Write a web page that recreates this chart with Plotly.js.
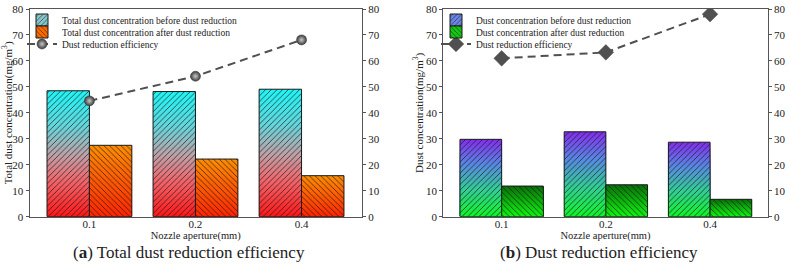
<!DOCTYPE html>
<html>
<head>
<meta charset="utf-8">
<script src="https://cdn.plot.ly/plotly-3.0.1.min.js"></script>
<style>
  html, body { margin: 0; padding: 0; background: #fff; }
  #chart { width: 790px; height: 265px; }
</style>
</head>
<body>
<div id="chart"></div>
<script>
// Nozzle apertures (mm)
const categories = ['0.1', '0.2', '0.4'];

// (a) total dust, mg/m3, and efficiency, %
const totalBefore = [48.5, 48.2, 49.1];
const totalAfter = [27.5, 22.2, 15.8];
const totalEfficiency = [44.6, 54.1, 68.1];

// (b) dust, mg/m3, and efficiency, %
const dustBefore = [29.8, 32.7, 28.7];
const dustAfter = [11.8, 12.3, 6.7];
const dustEfficiency = [61.0, 63.3, 78.0];

const yTicks = [0, 10, 20, 30, 40, 50, 60, 70, 80];

const FONT = 'Liberation Serif';
const INK = '#222';
const AXIS = '#555';
const STEPS = 36;

// colour stops, bottom (0) to top (1) of each bar
const gradTotalBefore = [[0, [255, 22, 22]], [0.28, [242, 100, 106]], [0.5, [188, 164, 170]],
                         [0.72, [100, 214, 220]], [1, [30, 246, 246]]];
const gradTotalAfter = [[0, [255, 36, 0]], [1, [255, 142, 0]]];
const gradDustBefore = [[0, [16, 246, 40]], [0.35, [50, 206, 150]], [0.68, [88, 136, 228]], [1, [132, 44, 240]]];
const gradDustAfter = [[0, [16, 248, 16]], [1, [8, 112, 8]]];

function colorAt(stops, t) {
  for (let i = 1; i < stops.length; i++) {
    if (t <= stops[i][0]) {
      const a = stops[i - 1], b = stops[i];
      const u = (t - a[0]) / (b[0] - a[0]);
      const c = a[1].map((v, j) => Math.round(v + (b[1][j] - v) * u));
      return 'rgb(' + c.join(',') + ')';
    }
  }
  return 'rgb(' + stops[stops.length - 1][1].join(',') + ')';
}

// A gradient bar series: nested bars from full height down, each shorter one
// painted on top, then a hatched outline bar at the full value.
function gradientBars(values, stops, xa, ya, offset, shape) {
  const traces = [];
  for (let k = 0; k < STEPS; k++) {
    const f = (STEPS - k) / STEPS;
    traces.push({
      type: 'bar', x: categories, y: values.map(v => v * f),
      xaxis: xa, yaxis: ya, width: 0.4, offset: offset,
      marker: { color: colorAt(stops, f - 0.5 / STEPS), line: { width: 0 } },
      showlegend: false, hoverinfo: 'skip'
    });
  }
  traces.push({
    type: 'bar', x: categories, y: values,
    xaxis: xa, yaxis: ya, width: 0.4, offset: offset,
    marker: {
      color: 'rgba(0,0,0,0)',
      line: { color: '#1a1a1a', width: 1 },
      pattern: { shape: shape, fgcolor: '#1a1a1a', bgcolor: 'rgba(0,0,0,0)', size: 4, solidity: 0.18 }
    },
    showlegend: false
  });
  return traces;
}

// legend entry for a bar series
function barKey(name, color, shape, xa, ya, legend) {
  return {
    type: 'bar', x: categories, y: categories.map(() => null),
    xaxis: xa, yaxis: ya, width: 0.4, name: name, legend: legend,
    marker: {
      color: color, line: { color: '#1a1a1a', width: 1 },
      pattern: { shape: shape, fgcolor: '#1a1a1a', bgcolor: color, size: 4, solidity: 0.18 }
    }
  };
}

// efficiency lines (right-hand axes)
const lineTraces = [
  {
    type: 'scatter', mode: 'lines+markers', x: categories, y: totalEfficiency,
    xaxis: 'x', yaxis: 'y2', name: 'Dust reduction efficiency', legend: 'legend3',
    line: { color: '#505050', width: 2, dash: '8px,5px' },
    marker: { symbol: 'circle', size: 10, color: '#3c3c3c',
              gradient: { type: 'radial', color: '#c8c8c8' },
              line: { color: '#333', width: 0.5 } }
  },
  {
    type: 'scatter', mode: 'lines+markers', x: categories, y: dustEfficiency,
    xaxis: 'x2', yaxis: 'y4', name: 'Dust reduction efficiency', legend: 'legend4',
    line: { color: '#505050', width: 2, dash: '8px,5px' },
    marker: { symbol: 'diamond', size: 12, color: '#505050', line: { color: '#505050', width: 0.5 } }
  }
];

const data = [].concat(
  lineTraces,
  gradientBars(totalBefore, gradTotalBefore, 'x', 'y', -0.4, '/'),
  gradientBars(totalAfter, gradTotalAfter, 'x', 'y', 0, '\\'),
  gradientBars(dustBefore, gradDustBefore, 'x2', 'y3', -0.4, '/'),
  gradientBars(dustAfter, gradDustAfter, 'x2', 'y3', 0, '\\'),
  [
    barKey('Total dust concentration before dust reduction', '#86c8cc', '/', 'x', 'y', 'legend'),
    barKey('Total dust concentration after dust reduction', '#ff6a00', '\\', 'x', 'y', 'legend2'),
    barKey('Dust concentration before dust reduction', '#6a86e6', '/', 'x2', 'y3', 'legend5'),
    barKey('Dust concentration after dust reduction', '#14c814', '\\', 'x2', 'y3', 'legend6')
  ]
);

const W = 790, H = 265;
const yDomain = [1 - 216.7 / H, 1 - 9 / H];

function xAxis(domain, range, anchor) {
  return {
    domain: domain, range: range, anchor: anchor, type: 'category',
    categoryorder: 'array', categoryarray: categories,
    showline: true, linecolor: AXIS, linewidth: 1, mirror: true,
    ticks: '', ticklabelstandoff: -3, showgrid: false, zeroline: false, automargin: false,
    tickfont: { family: FONT, size: 11, color: INK },
    title: { text: 'Nozzle aperture(mm)', font: { family: FONT, size: 10.5, color: INK }, standoff: 0 }
  };
}
function yAxis(anchor, titleText) {
  return {
    domain: yDomain, range: [0, 80], anchor: anchor,
    tickvals: yTicks, ticktext: yTicks.map(String),
    showline: true, linecolor: AXIS, linewidth: 1,
    ticks: 'outside', ticklen: 3, tickcolor: AXIS,
    showgrid: false, zeroline: false, automargin: false,
    tickfont: { family: FONT, size: 11, color: INK },
    title: { text: titleText, font: { family: FONT, size: 11, color: INK }, standoff: 0 }
  };
}
function rightAxis(anchor, over) {
  return {
    domain: yDomain, range: [0, 80], anchor: anchor, overlaying: over, side: 'right',
    tickvals: yTicks, ticktext: yTicks.map(String),
    showline: true, linecolor: AXIS, linewidth: 1,
    ticks: 'outside', ticklen: 3, tickcolor: AXIS,
    showgrid: false, zeroline: false, automargin: false,
    tickfont: { family: FONT, size: 11, color: INK }
  };
}

function legendAt(xPx, yPx) {
  return {
    x: xPx / W, y: 1 - yPx / H, xanchor: 'left', yanchor: 'middle',
    bgcolor: 'rgba(0,0,0,0)', borderwidth: 0, itemwidth: 30,
    font: { family: FONT, size: 9.5, color: INK }, itemclick: false
  };
}

const layout = {
  width: W, height: H,
  margin: { l: 0, r: 0, t: 0, b: 0 },
  paper_bgcolor: '#fff', plot_bgcolor: 'rgba(0,0,0,0)',
  barmode: 'overlay', showlegend: true,
  font: { family: FONT, color: INK },
  xaxis: xAxis([29.5 / W, 362 / W], [-0.565, 2.57], 'y'),
  yaxis: yAxis('x', 'Total dust concentration(mg/m<sup>3</sup>)'),
  yaxis2: rightAxis('x', 'y'),
  xaxis2: xAxis([443.3 / W, 767.7 / W], [-0.56, 2.553], 'y3'),
  yaxis3: yAxis('x2', 'Dust concentration(mg/m<sup>3</sup>)'),
  yaxis4: rightAxis('x2', 'y3'),
  legend: legendAt(22, 20),
  legend2: legendAt(22, 32),
  legend3: legendAt(22, 44),
  legend5: legendAt(436, 20),
  legend6: legendAt(436, 32),
  legend4: legendAt(436, 44),
  annotations: [
    { text: '(<b>a</b>) Total dust reduction efficiency', xref: 'paper', yref: 'paper',
      x: 189 / W, y: 1 - 252.7 / H, xanchor: 'center', yanchor: 'middle', showarrow: false,
      font: { family: FONT, size: 17, color: INK } },
    { text: '(<b>b</b>) Dust reduction efficiency', xref: 'paper', yref: 'paper',
      x: 599 / W, y: 1 - 252.7 / H, xanchor: 'center', yanchor: 'middle', showarrow: false,
      font: { family: FONT, size: 17, color: INK } }
  ]
};

Plotly.newPlot('chart', data, layout, { staticPlot: true, displayModeBar: false });
</script>
</body>
</html>
